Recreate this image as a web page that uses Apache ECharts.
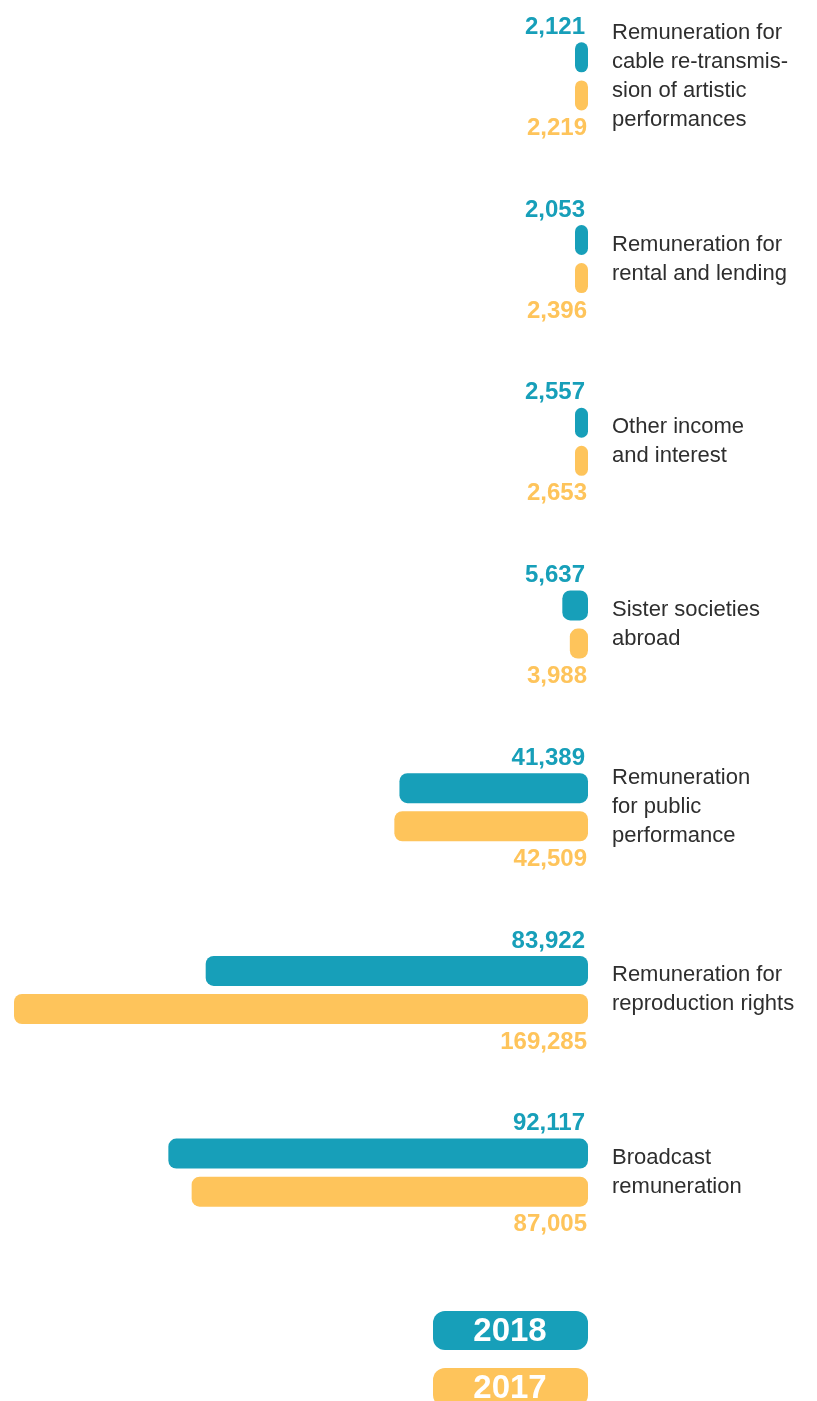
<!DOCTYPE html>
<html>
<head>
<meta charset="utf-8">
<script src="https://cdn.jsdelivr.net/npm/echarts@6/dist/echarts.min.js"></script>
<style>
  html, body { margin: 0; padding: 0; background: #fff; }
  #chart { width: 817px; height: 1401px; }
</style>
</head>
<body>
<div id="chart"></div>
<script>
// categories, top to bottom (line breaks as printed)
var categories = [
  "Remuneration for\ncable re-transmis-\nsion of artistic\nperformances",
  "Remuneration for\nrental and lending",
  "Other income\nand interest",
  "Sister societies\nabroad",
  "Remuneration\nfor public\nperformance",
  "Remuneration for\nreproduction rights",
  "Broadcast\nremuneration"
];
var years = ["2018", "2017"];
var values2018 = [2121, 2053, 2557, 5637, 41389, 83922, 92117];
var values2017 = [2219, 2396, 2653, 3988, 42509, 169285, 87005];

var TEAL = "#179fb9";
var YELLOW = "#fec45b";
var FONT = "'Liberation Sans', Arial, sans-serif";

var chart = echarts.init(document.getElementById("chart"));

function fmt(p) {
  return p.value.toLocaleString("en-US");
}

chart.setOption({
  animation: false,
  textStyle: { fontFamily: FONT },
  grid: {
    left: 14,
    right: 229,
    top: -15,
    bottom: 137,
    containLabel: false,
    outerBoundsMode: "none"
  },
  xAxis: {
    type: "value",
    inverse: true,
    min: 0,
    max: 126000,
    show: false
  },
  yAxis: {
    type: "category",
    inverse: true,
    position: "right",
    data: categories,
    axisLine: { show: false },
    axisTick: { show: false },
    splitLine: { show: false },
    axisLabel: {
      align: "left",
      margin: 24,
      fontSize: 22,
      lineHeight: 29,
      color: "#2e2e2e",
      fontFamily: FONT
    }
  },
  series: [
    {
      name: years[0],
      type: "bar",
      data: values2018,
      barWidth: 30,
      barGap: "27%",
      barMinHeight: 13,
      clip: true,
      itemStyle: { color: TEAL, borderRadius: 8 },
      label: {
        show: true,
        position: ["100%", -15],
        offset: [-3, 0],
        align: "right",
        verticalAlign: "middle",
        formatter: fmt,
        color: TEAL,
        fontSize: 24,
        fontWeight: "bold",
        fontFamily: FONT
      }
    },
    {
      name: years[1],
      type: "bar",
      data: values2017,
      barWidth: 30,
      barGap: "27%",
      barMinHeight: 13,
      clip: true,
      itemStyle: { color: YELLOW, borderRadius: 8 },
      label: {
        show: true,
        position: ["100%", 48],
        offset: [-1, 0],
        align: "right",
        verticalAlign: "middle",
        formatter: fmt,
        color: YELLOW,
        fontSize: 24,
        fontWeight: "bold",
        fontFamily: FONT
      }
    }
  ],
  // legend boxes
  graphic: [
    {
      type: "group",
      left: 433,
      top: 1311,
      children: [
        { type: "rect", shape: { x: 0, y: 0, width: 155, height: 39, r: 12 }, style: { fill: TEAL } },
        {
          type: "text", x: 77, y: 21,
          style: { text: years[0], fill: "#fff", font: "bold 33px " + FONT, textAlign: "center", textVerticalAlign: "middle" }
        }
      ]
    },
    {
      type: "group",
      left: 433,
      top: 1368,
      children: [
        { type: "rect", shape: { x: 0, y: 0, width: 155, height: 39, r: 12 }, style: { fill: YELLOW } },
        {
          type: "text", x: 77, y: 21,
          style: { text: years[1], fill: "#fff", font: "bold 33px " + FONT, textAlign: "center", textVerticalAlign: "middle" }
        }
      ]
    }
  ]
});
</script>
</body>
</html>
